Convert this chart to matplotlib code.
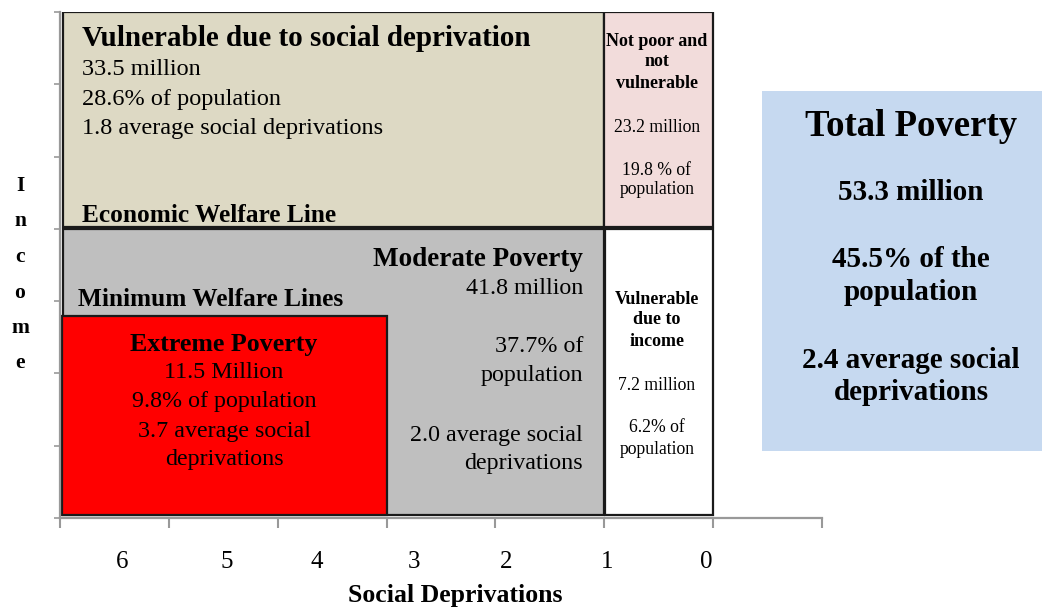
import matplotlib.pyplot as plt
from matplotlib.patches import Rectangle

plt.rcParams["font.family"] = ["Liberation Serif", "DejaVu Serif"]

# Boxes: (x0, x1, y0, y1) in social-deprivation / income units
box_names = ["vuln_social", "not_poor", "moderate", "vuln_income", "extreme"]
box_x0 = [0.03, 5.0, 0.03, 5.01, 0.02]
box_x1 = [5.0, 6.0, 5.0, 6.0, 3.0]
box_y0 = [4.02, 4.02, 0.04, 0.04, 0.04]
box_y1 = [7.0, 7.0, 4.0, 4.0, 2.8]
box_colors = ["#DDD9C4", "#F2DCDB", "#BFBFBF", "#FFFFFF", "#FF0000"]

# x axis: integer tick marks, labels placed as in the source figure
tick_pos = [0, 1, 2, 3, 4, 5, 6, 7]
label_pos = [0.57, 1.53, 2.36, 3.25, 4.10, 5.03, 5.94]
label_text = ["6", "5", "4", "3", "2", "1", "0"]
ytick_pos = [0, 1, 2, 3, 4, 5, 6, 7]

fig = plt.figure(figsize=(10.42, 6.08), dpi=100)
ax = fig.add_axes([60 / 1042, 90 / 608, 762 / 1042, 506 / 608])
ax.set_xlim(0, 7)
ax.set_ylim(0, 7)

for x0, x1, y0, y1, c in zip(box_x0, box_x1, box_y0, box_y1, box_colors):
    ax.add_patch(Rectangle((x0, y0), x1 - x0, y1 - y0, facecolor=c,
                           edgecolor="#1a1a1a", lw=1.6, zorder=2))

for s in ["top", "right"]:
    ax.spines[s].set_visible(False)
for s in ["left", "bottom"]:
    ax.spines[s].set_color("#999999")
    ax.spines[s].set_linewidth(1.6)

ax.set_xticks(tick_pos, minor=True)
ax.set_xticks(label_pos)
ax.set_xticklabels(label_text, fontsize=18)
ax.tick_params(axis="x", which="major", length=0, pad=24)
ax.tick_params(axis="x", which="minor", length=7, width=1.5, color="#999999")
ax.set_yticks(ytick_pos)
ax.set_yticklabels([])
ax.tick_params(axis="y", length=4, width=1.2, color="#999999")

ax.set_xlabel("Social Deprivations", fontsize=18.5, fontweight="bold",
              va="baseline")
ax.xaxis.set_label_coords((455 - 60) / 762, (518 - 602) / 506)

# stacked y label
for i, ch in enumerate("Income"):
    fig.text(20 / 1042, 1 - (186 + i * 35.5) / 608, ch, fontsize=15.5,
             fontweight="bold", ha="center", va="center")

def px(xp, yp):
    return ((xp - 60) / 762 * 7, (518 - yp) / 506 * 7)

def put(xp, yp, s, size, bold=False, ha="left"):
    x, y = px(xp, yp)
    ax.text(x, y, s, fontsize=size, fontweight="bold" if bold else "normal",
            ha=ha, va="center", zorder=3)

# Vulnerable due to social deprivation
put(82, 39, "Vulnerable due to social deprivation", 21, True)
put(82, 69, "33.5 million", 17.5)
put(82, 99, "28.6% of population", 17.5)
put(82, 128, "1.8 average social deprivations", 17.5)
put(82, 215, "Economic Welfare Line", 18.3, True)

# Not poor and not vulnerable
for yp, s in zip([42, 62, 83], ["Not poor and", "not", "vulnerable"]):
    put(657, yp, s, 13, True, "center")
for yp, s in zip([127, 170, 190], ["23.2 million", "19.8 % of", "population"]):
    put(657, yp, s, 12.7, False, "center")

# Moderate poverty
put(583, 260, "Moderate Poverty", 19.5, True, "right")
for yp, s in zip([288, 347, 376, 435, 463],
                 ["41.8 million", "37.7% of", "population",
                  "2.0 average social", "deprivations"]):
    put(583, yp, s, 17.3, False, "right")
put(78, 299, "Minimum Welfare Lines", 18.3, True)

# Extreme poverty
put(224, 344, "Extreme Poverty", 18.6, True, "center")
for yp, s in zip([372, 402, 431, 460],
                 ["11.5 Million", "9.8% of population",
                  "3.7 average social", "deprivations"]):
    put(224, yp, s, 17.3, False, "center")

# Vulnerable due to income
for yp, s in zip([299, 320, 342], ["Vulnerable", "due to", "income"]):
    put(657, yp, s, 13, True, "center")
for yp, s in zip([385, 428, 449], ["7.2 million", "6.2% of", "population"]):
    put(657, yp, s, 12.7, False, "center")

# Total poverty box
fig.add_artist(Rectangle((762 / 1042, 1 - 451 / 608), 280 / 1042, 360 / 608,
                         facecolor="#C6D9F0", edgecolor="none",
                         transform=fig.transFigure))
def fput(xp, yp, s, size):
    fig.text(xp / 1042, 1 - yp / 608, s, fontsize=size, fontweight="bold",
             ha="center", va="center")
fput(911, 126, "Total Poverty", 26.5)
fput(911, 193, "53.3 million", 21)
fput(911, 260, "45.5% of the", 21)
fput(911, 293, "population", 21)
fput(911, 360, "2.4 average social", 21)
fput(911, 392, "deprivations", 21)

fig.savefig("out.png", dpi=100)
